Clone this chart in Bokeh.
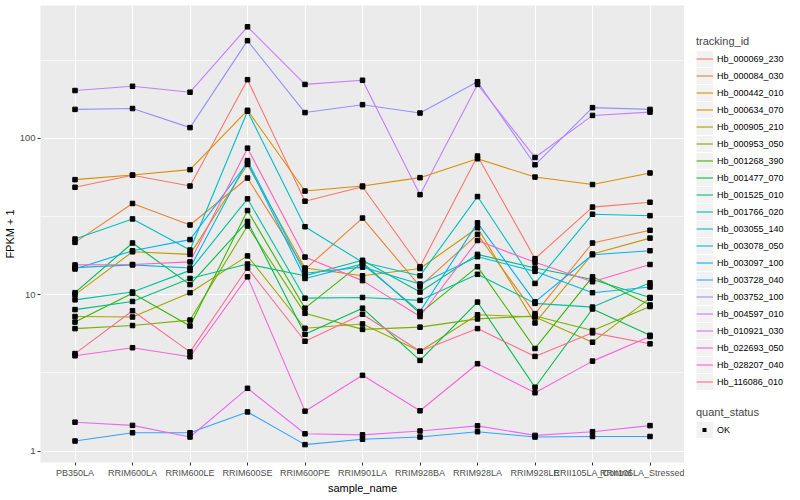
from bokeh.plotting import figure
from bokeh.models import (FactorRange, Range1d, FixedTicker, Legend, LegendItem,
                          PrintfTickFormatter)
from bokeh.layouts import row, column
from bokeh.embed import file_html
from bokeh.resources import INLINE

samples = ["PB350LA", "RRIM600LA", "RRIM600LE", "RRIM600SE", "RRIM600PE", "RRIM901LA",
           "RRIM928BA", "RRIM928LA", "RRIM928LE", "RRII105LA_Control", "RRII105LA_Stressed"]

tracking_ids = ["Hb_000069_230", "Hb_000084_030", "Hb_000442_010", "Hb_000634_070",
                "Hb_000905_210", "Hb_000953_050", "Hb_001268_390", "Hb_001477_070",
                "Hb_001525_010", "Hb_001766_020", "Hb_003055_140", "Hb_003078_050",
                "Hb_003097_100", "Hb_003728_040", "Hb_003752_100", "Hb_004597_010",
                "Hb_010921_030", "Hb_022693_050", "Hb_028207_040", "Hb_116086_010"]

colors = ["#F8766D", "#EA8331", "#D89000", "#C09B00", "#A3A500", "#7CAE00", "#39B600",
          "#00BB4E", "#00BF7D", "#00C1A3", "#00BFC4", "#00BAE0", "#00B0F6", "#35A2FF",
          "#9590FF", "#C77CFF", "#E76BF3", "#FA62DB", "#FF62BC", "#FF6C91"]

# FPKM + 1 values, one list per tracking_id, in sample order
hb_000069_230 = [48.6, 58, 49.5, 237, 39.6, 49, 15.1, 77, 17, 36.3, 39]
hb_000084_030 = [21.6, 38.3, 27.9, 55.7, 14.5, 30.9, 11.3, 24.3, 7.56, 21.4, 25.8]
hb_000442_010 = [54.4, 58.2, 63, 151, 46, 49.5, 56, 74, 56.5, 50.6, 60]
hb_000634_070 = [10.0, 18.8, 18.1, 68, 14.8, 13.2, 14.7, 26.8, 6.6, 18.2, 23.0]
hb_000905_210 = [7.25, 7.2, 10.3, 17.7, 6.1, 6.5, 4.35, 7.44, 7.2, 4.97, 9.5]
hb_000953_050 = [6.07, 6.35, 6.88, 27.5, 7.6, 6.0, 6.2, 7.0, 7.3, 5.9, 8.4]
hb_001268_390 = [6.68, 10.2, 6.31, 34.5, 8.2, 16.1, 7.6, 15.1, 4.53, 13.0, 8.6]
hb_001477_070 = [10.3, 21.4, 11.6, 29.4, 5.58, 8.2, 3.8, 8.97, 2.56, 8.1, 5.5]
hb_001525_010 = [8.03, 9.05, 12.7, 15.7, 13.2, 16.6, 10.4, 18.1, 14.8, 12.5, 9.6]
hb_001766_020 = [9.27, 10.4, 14.3, 41, 9.5, 9.6, 9.2, 13.5, 8.8, 8.33, 11.9]
hb_003055_140 = [22.7, 30.5, 19.3, 149, 27.2, 16.1, 13.2, 42.4, 11.8, 32.7, 32.0]
hb_003078_050 = [14.9, 15.5, 14.8, 72, 13.7, 15.0, 11.7, 17.5, 14.1, 10.3, 11.2]
hb_003097_100 = [14.6, 19.1, 22.5, 70, 12.7, 15.7, 7.8, 28.8, 9.0, 18.0, 19.1]
hb_003728_040 = [1.16, 1.31, 1.31, 1.78, 1.10, 1.19, 1.23, 1.33, 1.23, 1.24, 1.24]
hb_003752_100 = [153, 155, 117, 421, 146, 164, 145, 230, 67.7, 157, 153]
hb_004597_010 = [202, 215, 197, 516, 221, 235, 43.6, 221, 75.4, 140, 147]
hb_010921_030 = [1.53, 1.46, 1.23, 2.52, 1.29, 1.27, 1.345, 1.45, 1.26, 1.33, 1.455]
hb_022693_050 = [4.07, 4.58, 4.01, 13.0, 1.8, 3.05, 1.81, 3.62, 2.36, 3.76, 5.4]
hb_028207_040 = [15.5, 15.6, 16.2, 86.5, 17.4, 12.3, 7.25, 22.2, 16.1, 12.1, 15.6]
hb_116086_010 = [4.2, 7.9, 4.31, 14.8, 5.04, 7.5, 4.35, 6.07, 4.03, 5.7, 4.85]

series = [hb_000069_230, hb_000084_030, hb_000442_010, hb_000634_070, hb_000905_210,
          hb_000953_050, hb_001268_390, hb_001477_070, hb_001525_010, hb_001766_020,
          hb_003055_140, hb_003078_050, hb_003097_100, hb_003728_040, hb_003752_100,
          hb_004597_010, hb_010921_030, hb_022693_050, hb_028207_040, hb_116086_010]

quant_status = "OK"

FONT = "Liberation Sans"
H = 496
W_MAIN = 684
W_LEG = 100
H_LEG1 = 400

p = figure(width=W_MAIN, height=H, output_backend="svg", toolbar_location=None,
           x_range=FactorRange(factors=samples, range_padding=0.2 / 11),
           y_range=Range1d(10 ** -0.073, 10 ** 2.849), y_axis_type="log",
           min_border_left=32, min_border_right=0, min_border_top=5, min_border_bottom=0)

p.background_fill_color = "#EBEBEB"
p.border_fill_color = "white"
p.outline_line_color = None

# grid
p.xgrid.grid_line_color = "white"
p.xgrid.grid_line_width = 1.1
p.ygrid.ticker = FixedTicker(ticks=[1, 10, 100], minor_ticks=[10 ** 0.5, 10 ** 1.5, 10 ** 2.5])
p.ygrid.grid_line_color = "white"
p.ygrid.grid_line_width = 1.1
p.ygrid.minor_grid_line_color = "white"
p.ygrid.minor_grid_line_width = 0.6

# axes
p.yaxis.ticker = FixedTicker(ticks=[1, 10, 100])
p.yaxis.formatter = PrintfTickFormatter(format="%d")
for ax in (p.xaxis[0], p.yaxis[0]):
    ax.axis_line_color = None
    ax.major_tick_line_color = "#333333"
    ax.major_tick_out = 3
    ax.major_tick_in = 0
    ax.minor_tick_line_color = None
    ax.major_label_text_color = "#4D4D4D"
    ax.major_label_text_font = FONT
    ax.major_label_standoff = 2
    ax.major_label_text_line_height = 1.0
    ax.axis_label_text_font = FONT
    ax.axis_label_text_font_size = "11px"
    ax.axis_label_text_font_style = "normal"
    ax.axis_label_text_color = "black"
    ax.axis_label_text_line_height = 1.0
    ax.axis_label_standoff = 1
p.xaxis.major_label_text_font_size = "9px"
p.yaxis.major_label_text_font_size = "9.5px"
p.xaxis.axis_label = "sample_name"
p.yaxis.axis_label = "FPKM + 1"

for col, vals in zip(colors, series):
    p.line(x=samples, y=vals, line_color=col, line_width=1.1)

all_x = [s for vals in series for s in samples]
all_y = [v for vals in series for v in vals]
p.scatter(x=all_x, y=all_y, marker="square", size=4.5, color="black")


def style_legend(lg):
    lg.padding = 0
    lg.margin = 0
    lg.border_line_color = None
    lg.background_fill_alpha = 0
    lg.glyph_width = 17
    lg.glyph_height = 17
    lg.label_height = 17
    lg.spacing = 0
    lg.label_standoff = 4
    lg.label_text_font = FONT
    lg.label_text_font_size = "9px"
    lg.label_text_color = "black"
    lg.title_text_font = FONT
    lg.title_text_font_size = "11px"
    lg.title_text_font_style = "normal"
    lg.title_standoff = 3
    lg.location = "top_left"


def legend_panel(height, top):
    f = figure(width=W_LEG, height=height, output_backend="svg", toolbar_location=None,
               x_range=Range1d(0, 1), y_range=Range1d(0, 1),
               x_axis_location=None, y_axis_location=None,
               min_border_left=12, min_border_right=0, min_border_top=top, min_border_bottom=0)
    f.grid.visible = False
    f.outline_line_color = None
    f.background_fill_color = "white"
    f.border_fill_color = "white"
    return f


# key background: a thick light-grey stroke fills each legend key box
OFF = [5]  # dummy legend glyphs sit outside the legend panels' ranges

lp1 = legend_panel(H_LEG1, 35)
bg1 = lp1.line(x=OFF, y=OFF, line_color="#F2F2F2", line_width=16, line_cap="butt")
items = []
for tid, col in zip(tracking_ids, colors):
    r = lp1.line(x=OFF, y=OFF, line_color=col, line_width=1.1)
    items.append(LegendItem(label=tid, renderers=[bg1, r]))
leg1 = Legend(items=items, title="tracking_id")
style_legend(leg1)
lp1.add_layout(leg1, "center")

lp2 = legend_panel(H - H_LEG1, 6)
bg2 = lp2.line(x=OFF, y=OFF, line_color="#F2F2F2", line_width=16, line_cap="butt")
# a short 4px dash centred in the key gives a small square point marker
pt2 = lp2.line(x=OFF, y=OFF, line_color="black", line_width=4, line_cap="butt",
               line_dash="4 13", line_dash_offset=11)
leg2 = Legend(items=[LegendItem(label=quant_status, renderers=[bg2, pt2])], title="quant_status")
style_legend(leg2)
lp2.add_layout(leg2, "center")

layout = row(p, column(lp1, lp2))

open("out.html", "w").write(file_html(layout, INLINE))
